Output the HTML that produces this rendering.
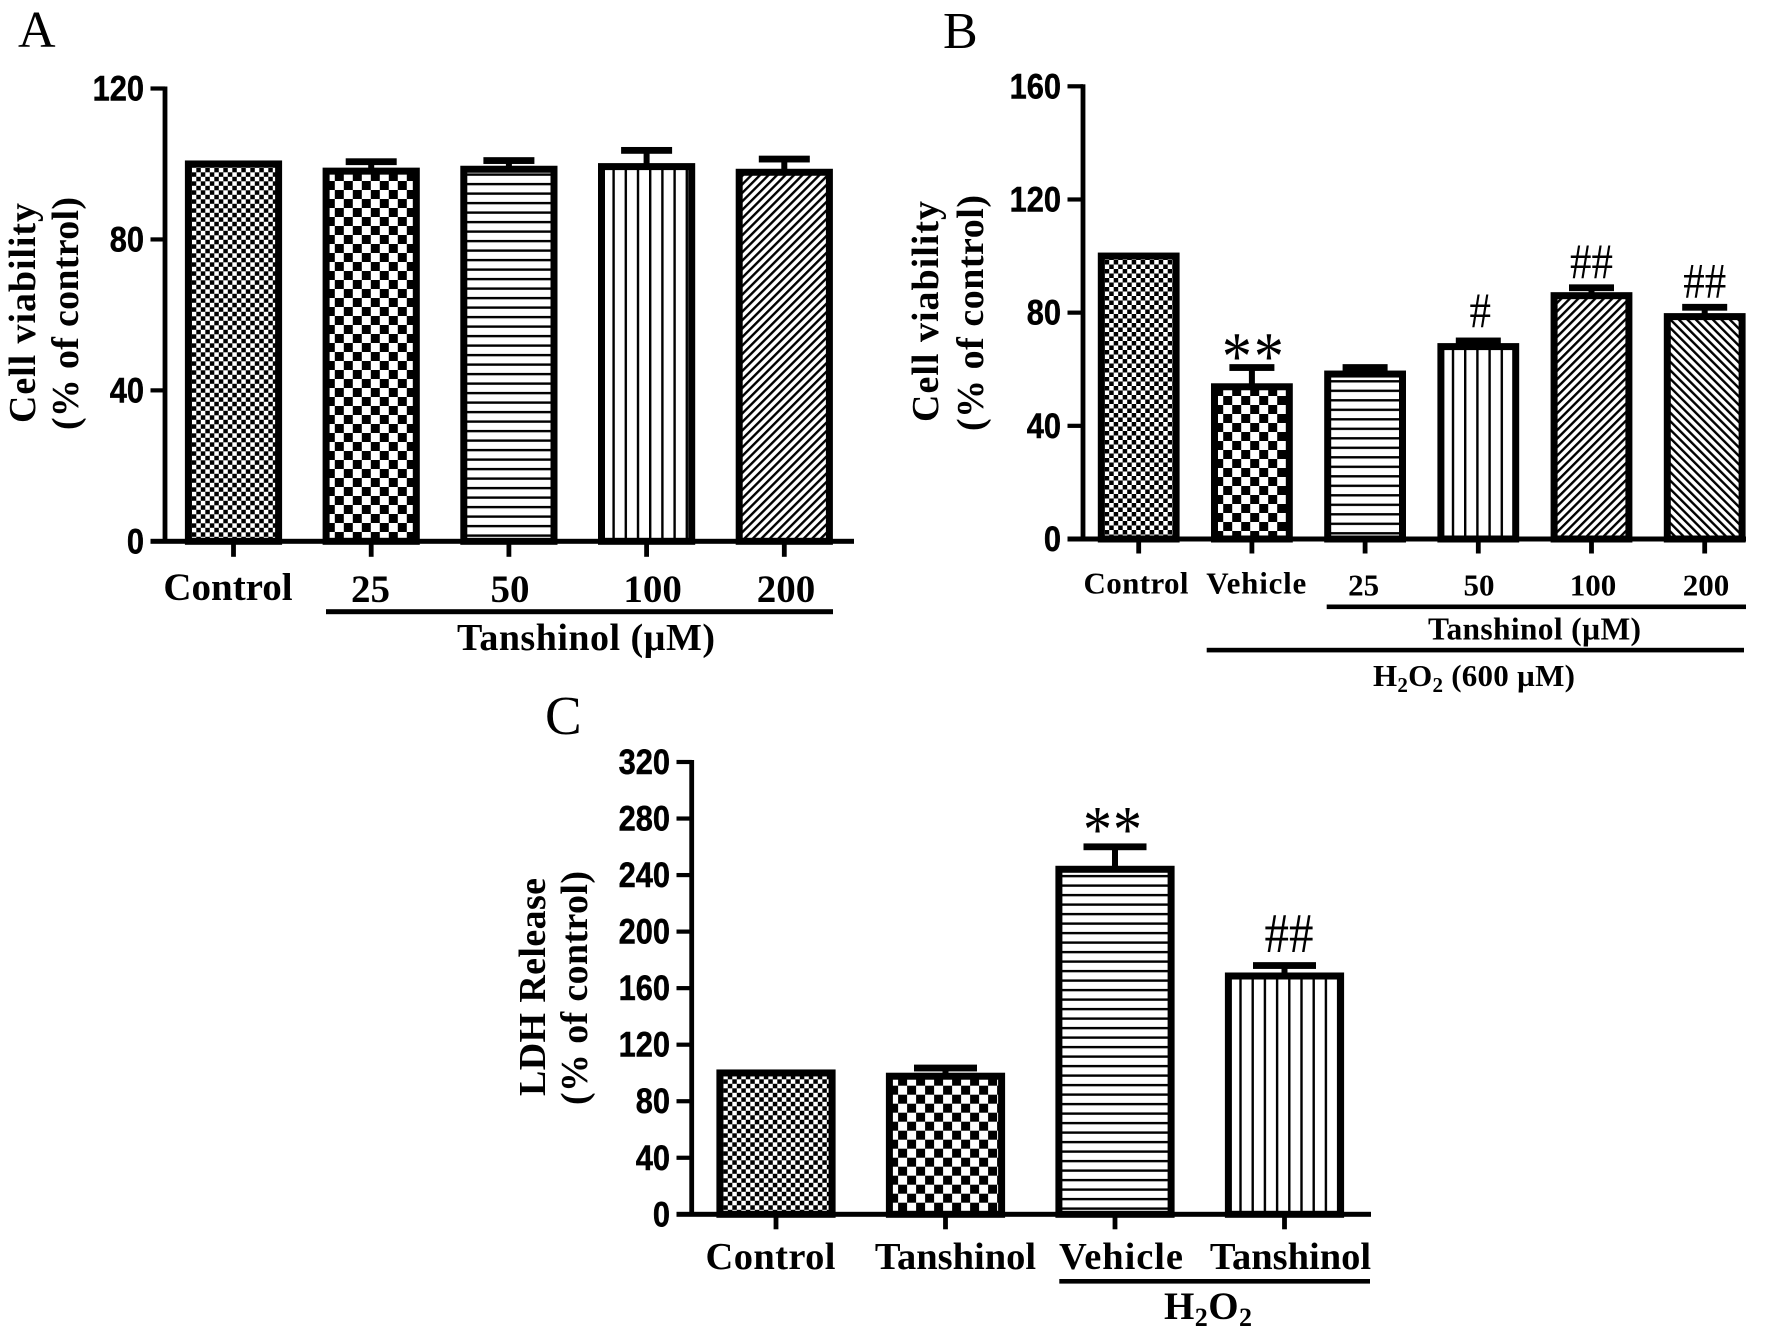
<!DOCTYPE html>
<html lang="en">
<head>
<meta charset="utf-8">
<title>Tanshinol cell viability and LDH release</title>
<style>
  html, body { margin: 0; padding: 0; background: #fff; }
  svg { display: block; }
  text { fill: #000; }
  .serif-b { font-family: "Liberation Serif", serif; font-weight: 700; }
  .serif { font-family: "Liberation Serif", serif; font-weight: 400; }
  .sans-b { font-family: "Liberation Sans", sans-serif; font-weight: 700; stroke: #000; stroke-width: 0.5px; }
</style>
</head>
<body>
<svg id="figure" xmlns="http://www.w3.org/2000/svg" width="1772" height="1336" viewBox="0 0 1772 1336">
  <rect x="0" y="0" width="1772" height="1336" fill="#fff"/>
  <defs id="patterns"></defs>

  <text class="serif" x="18" y="47" font-size="52">A</text>
  <text class="serif" x="943" y="48" font-size="52">B</text>
  <text class="serif" x="545" y="734" font-size="55">C</text>

  <g id="panel-a">
    <text class="serif-b" font-size="38" transform="translate(35,423) rotate(-90)" textLength="220" lengthAdjust="spacing">Cell viability</text>
    <text class="serif-b" font-size="38" transform="translate(78,430) rotate(-90)" textLength="233" lengthAdjust="spacing">(% of control)</text>
    <rect x="326" y="609.2" width="507" height="5" fill="#000"/>
    <text class="serif-b" x="457" y="650" font-size="38" textLength="258" lengthAdjust="spacing">Tanshinol (µM)</text>
  </g>

  <g id="panel-b">
    <text class="serif-b" font-size="38" transform="translate(938,422) rotate(-90)" textLength="221" lengthAdjust="spacing">Cell viability</text>
    <text class="serif-b" font-size="38" transform="translate(983,431) rotate(-90)" textLength="236" lengthAdjust="spacing">(% of control)</text>
    <rect x="1326.7" y="604.5" width="419.3" height="4.6" fill="#000"/>
    <text class="serif-b" x="1428" y="639.3" font-size="31.5" textLength="213" lengthAdjust="spacing">Tanshinol (µM)</text>
    <rect x="1206.7" y="647.8" width="537.3" height="4.6" fill="#000"/>
    <text class="serif-b" x="1373" y="686" font-size="31" textLength="202" lengthAdjust="spacing">H<tspan font-size="21" dy="6">2</tspan><tspan dy="-6">O</tspan><tspan font-size="21" dy="6">2</tspan><tspan dy="-6"> (600 µM)</tspan></text>
  </g>

  <g id="panel-c">
    <text class="serif-b" font-size="38" transform="translate(545,1096) rotate(-90)" textLength="218" lengthAdjust="spacing">LDH Release</text>
    <text class="serif-b" font-size="38" transform="translate(587,1105) rotate(-90)" textLength="234" lengthAdjust="spacing">(% of control)</text>
    <rect x="1059.3" y="1279" width="310.7" height="4.6" fill="#000"/>
    <text class="serif-b" x="1164" y="1319" font-size="39" textLength="88" lengthAdjust="spacing">H<tspan font-size="26" dy="7">2</tspan><tspan dy="-7">O</tspan><tspan font-size="26" dy="7">2</tspan></text>
  </g>
</svg>

<script>
// ---- Chart data ----
const panelACategories = ['Control', '25', '50', '100', '200'];
const panelAValues = [100, 98.1, 98.6, 99.3, 97.8];
const panelAErrors = [0, 2.5, 2.3, 4.3, 3.5];
const panelATicks = [0, 40, 80, 120];
const panelAFills = ['fine', 'coarse', 'horizontal', 'vertical', 'diagonal'];
const panelAMarks = ['', '', '', '', ''];

const panelBCategories = ['Control', 'Vehicle', '25', '50', '100', '200'];
const panelBValues = [100, 53.8, 58.3, 68, 86, 78.6];
const panelBErrors = [0, 6.8, 2.3, 2, 2.8, 3.3];
const panelBTicks = [0, 40, 80, 120, 160];
const panelBFills = ['fine', 'coarse', 'horizontal', 'vertical', 'diagonal', 'backdiagonal'];
const panelBMarks = ['', '**', '', '#', '##', '##'];

const panelCCategories = ['Control', 'Tanshinol', 'Vehicle', 'Tanshinol'];
const panelCValues = [100, 97.7, 244.1, 168.6];
const panelCErrors = [0, 5.8, 15.9, 7.4];
const panelCTicks = [0, 40, 80, 120, 160, 200, 240, 280, 320];
const panelCFills = ['fine', 'coarse', 'horizontal', 'vertical'];
const panelCMarks = ['', '', '**', '##'];

// ---- Drawing ----
const SVGNS = 'http://www.w3.org/2000/svg';
const defs = document.getElementById('patterns');
let patternCount = 0;

function make(tag, attrs, parent) {
  const node = document.createElementNS(SVGNS, tag);
  for (const key in attrs) node.setAttribute(key, attrs[key]);
  if (parent) parent.appendChild(node);
  return node;
}

function makePattern(kind, left, base, coarseDy) {
  const id = 'fill-' + (patternCount++);
  let attrs = { id: id, patternUnits: 'userSpaceOnUse' };
  const p = make('pattern', attrs, defs);
  
  
  if (kind === 'fine' || kind === 'coarse') {
    const c = kind === 'fine' ? 4.5 : 9;
    p.setAttribute('x', left + (kind === 'fine' ? 0 : 5.3));
    p.setAttribute('y', base - 18 + (kind === 'fine' ? 0 : coarseDy));
    p.setAttribute('width', 2 * c);
    p.setAttribute('height', 2 * c);
    make('rect', { x: 0, y: 0, width: 2 * c, height: 2 * c, fill: '#fff' }, p);
    make('rect', { x: 0, y: 0, width: c, height: c, fill: '#000' }, p);
    make('rect', { x: c, y: c, width: c, height: c, fill: '#000' }, p);
  } else if (kind === 'horizontal') {
    p.setAttribute('x', left);
    p.setAttribute('y', base - 6.9);
    p.setAttribute('width', 10);
    p.setAttribute('height', 9.5);
    make('rect', { x: 0, y: 0, width: 10, height: 9.5, fill: '#fff' }, p);
    make('rect', { x: 0, y: 0, width: 10, height: 2.4, fill: '#000' }, p);
  } else if (kind === 'vertical') {
    p.setAttribute('x', left + 7.5);
    p.setAttribute('y', 0);
    p.setAttribute('width', 12.2);
    p.setAttribute('height', 10);
    make('rect', { x: 0, y: 0, width: 12.2, height: 10, fill: '#fff' }, p);
    make('rect', { x: 0, y: 0, width: 2.4, height: 10, fill: '#000' }, p);
  } else {
    p.setAttribute('x', 0);
    p.setAttribute('y', 0);
    p.setAttribute('width', 6);
    p.setAttribute('height', 10);
    p.setAttribute('patternTransform', 'rotate(' + (kind === 'diagonal' ? 45 : -45) + ')');
    make('rect', { x: 0, y: 0, width: 6, height: 10, fill: '#fff' }, p);
    make('rect', { x: 0, y: 0, width: 2.4, height: 10, fill: '#000' }, p);
  }
  return 'url(#' + id + ')';
}

function drawPanel(parentId, layout, categories, values, errors, ticks, fills, marks) {
  const parent = document.getElementById(parentId);
  const yScale = v => layout.base - (v / layout.max) * (layout.base - layout.top);
  const xScale = i => layout.first + i * layout.step;

  categories.forEach((label, i) => {
    const cx = xScale(i);
    const group = make('g', {}, parent);
    
    

    const yTop = yScale(values[i]);
    const left = cx - layout.barWidth / 2;

    if (errors[i] > 0) {
      const yErr = yScale(values[i] + errors[i]);
      const stem = make('rect', { x: cx - 3, y: yErr, width: 6, height: yTop - yErr, fill: '#000' }, group);
      
      
      const cap = make('rect', { x: cx - layout.capWidth / 2, y: yErr - 3.4, width: layout.capWidth, height: 6.8, fill: '#000' }, group);
      
      
    }

    const bar = make('rect', {
      x: left, y: yTop, width: layout.barWidth, height: layout.base - yTop,
      fill: makePattern(fills[i], left + 3.4, layout.base, layout.coarseDy),
      stroke: '#000', 'stroke-width': 7
    }, group);
    
    

    const tick = make('rect', { x: cx - 2.4, y: layout.base, width: 4.8, height: layout.tickLen, fill: '#000' }, group);
    
    

    const text = make('text', {
      x: layout.labelCenters[i], y: layout.labelBase[i], 'text-anchor': 'middle',
      'font-size': layout.labelSize, class: 'serif-b'
    }, group);
    
    
    if (layout.labelLengths[i] > 0) {
      text.setAttribute('textLength', layout.labelLengths[i]);
      text.setAttribute('lengthAdjust', 'spacing');
    }
    text.textContent = label;

    if (marks[i]) {
      const star = marks[i].charAt(0) === '*';
      const yErr = yScale(values[i] + errors[i]);
      const sigY = yErr + (star ? layout.starDy : layout.hashDy[i]);
      const sig = make('text', {
        'text-anchor': 'middle', class: 'serif',
        transform: 'translate(' + (cx + layout.markDx[i]) + ',' + sigY + ') scale(1,1.15)',
        'font-size': star ? layout.starSize : layout.hashSize,
        'letter-spacing': star ? layout.starGap : 0
      }, group);
      
      
      sig.textContent = marks[i];
    }
  });

  const xAxis = make('rect', { x: layout.tickLeft, y: layout.base - 2.5, width: layout.right - layout.tickLeft, height: 5, fill: '#000' }, parent);
  
  

  const yAxis = make('rect', { x: layout.axisX - 2.4, y: layout.top - 2, width: 4.8, height: layout.base - layout.top + 2, fill: '#000' }, parent);
  
  

  ticks.forEach(t => {
    const y = yScale(t);
    const mark = make('rect', { x: layout.tickLeft, y: y - 2.1, width: layout.axisX - layout.tickLeft, height: 4.2, fill: '#000' }, parent);
    
    
    const lab = make('text', {
      'text-anchor': 'end', class: 'sans-b', 'font-size': 35,
      transform: 'translate(' + (layout.tickLeft - 6.5) + ',' + (y + 12) + ') scale(0.88,1)'
    }, parent);
    
    
    lab.textContent = t;
  });
}

drawPanel('panel-a', {
  axisX: 165, tickLeft: 150.5, right: 854, top: 88.5, base: 541.3, max: 120,
  first: 233.5, step: 137.7, barWidth: 90.2, capWidth: 51, tickLen: 15.5, coarseDy: -9.3,
  labelCenters: [228, 370.5, 510, 652.6, 786],
  labelBase: [600, 602, 602, 602, 602], labelSize: 39, labelLengths: [0, 0, 0, 0, 0],
  markDx: [0, 0, 0, 0, 0], hashDy: [0, 0, 0, 0, 0], starDy: 0, hashSize: 44, starSize: 60, starGap: 2
}, panelACategories, panelAValues, panelAErrors, panelATicks, panelAFills, panelAMarks);

drawPanel('panel-b', {
  axisX: 1083, tickLeft: 1067.5, right: 1746, top: 86.3, base: 539, max: 160,
  first: 1138.7, step: 113.2, barWidth: 74.8, capWidth: 45, tickLen: 14.5, coarseDy: -17,
  labelCenters: [1136, 1256.3, 1363.6, 1479, 1593, 1706],
  labelBase: [593.3, 593.3, 595.7, 595.7, 595.7, 595.7], labelSize: 31, labelLengths: [105, 100, 0, 0, 0, 0],
  markDx: [0, 2, 0, 2, 0, 0], hashDy: [0, 0, 0, -14, -10, -10], starDy: 12, hashSize: 43, starSize: 60, starGap: 2
}, panelBCategories, panelBValues, panelBErrors, panelBTicks, panelBFills, panelBMarks);

drawPanel('panel-c', {
  axisX: 691.7, tickLeft: 676.5, right: 1371, top: 762, base: 1214.3, max: 320,
  first: 776, step: 169.5, barWidth: 112.2, capWidth: 63, tickLen: 15, coarseDy: -11.6,
  labelCenters: [770.5, 955.5, 1121, 1290.5],
  labelBase: [1269, 1269, 1269, 1269], labelSize: 38.5, labelLengths: [130, 0, 124, 0],
  markDx: [0, 0, -2, 4.5], hashDy: [0, 0, 0, -13.5], starDy: 5.4, hashSize: 49, starSize: 58, starGap: 1
}, panelCCategories, panelCValues, panelCErrors, panelCTicks, panelCFills, panelCMarks);
</script>
</body>
</html>
